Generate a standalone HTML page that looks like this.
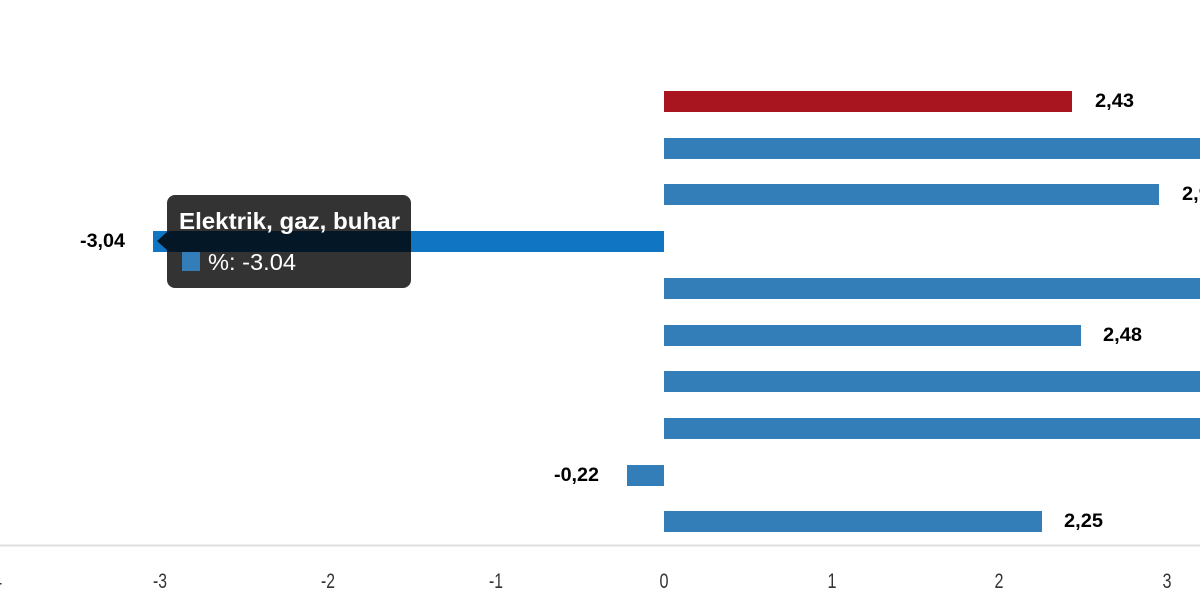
<!DOCTYPE html>
<html><head><meta charset="utf-8"><style>
html,body{margin:0;padding:0;background:#fff;width:1200px;height:600px;overflow:hidden}
text{font-family:"Liberation Sans",Arial,sans-serif}
</style></head><body>
<svg width="1200" height="600" xmlns="http://www.w3.org/2000/svg">
<line x1="0" y1="545.5" x2="1200" y2="545.5" stroke="#e0e0e0" stroke-width="2"/>
<g fill="#333" font-size="21" text-anchor="middle">
<text x="-5" y="588" textLength="14" lengthAdjust="spacingAndGlyphs">-4</text>
<text x="160" y="588" textLength="14" lengthAdjust="spacingAndGlyphs">-3</text>
<text x="328" y="588" textLength="14" lengthAdjust="spacingAndGlyphs">-2</text>
<text x="496" y="588" textLength="14" lengthAdjust="spacingAndGlyphs">-1</text>
<text x="664" y="588" textLength="9" lengthAdjust="spacingAndGlyphs">0</text>
<text x="832" y="588" textLength="9" lengthAdjust="spacingAndGlyphs">1</text>
<text x="999" y="588" textLength="9" lengthAdjust="spacingAndGlyphs">2</text>
<text x="1167" y="588" textLength="9" lengthAdjust="spacingAndGlyphs">3</text>
</g>
<rect x="664" y="91" width="408" height="21" fill="#a8151e"/>
<rect x="664" y="138" width="540" height="21" fill="#337db8"/>
<rect x="664" y="184" width="495" height="21" fill="#337db8"/>
<rect x="153" y="231" width="511" height="21" fill="#1075c2"/>
<rect x="664" y="278" width="540" height="21" fill="#337db8"/>
<rect x="664" y="325" width="417" height="21" fill="#337db8"/>
<rect x="664" y="371" width="540" height="21" fill="#337db8"/>
<rect x="664" y="418" width="540" height="21" fill="#337db8"/>
<rect x="627" y="465" width="37" height="21" fill="#337db8"/>
<rect x="664" y="511" width="378" height="21" fill="#337db8"/>
<g fill="#000" font-size="19" font-weight="bold">
<text x="1095" y="107" textLength="39" lengthAdjust="spacingAndGlyphs">2,43</text>
<text x="1182" y="200" textLength="39" lengthAdjust="spacingAndGlyphs">2,95</text>
<text x="1103" y="341" textLength="39" lengthAdjust="spacingAndGlyphs">2,48</text>
<text x="1064" y="527" textLength="39" lengthAdjust="spacingAndGlyphs">2,25</text>
<text x="80" y="247" textLength="45" lengthAdjust="spacingAndGlyphs">-3,04</text>
<text x="554" y="481" textLength="45" lengthAdjust="spacingAndGlyphs">-0,22</text>
</g>
<path d="M167,203 a8,8 0 0 1 8,-8 H403 a8,8 0 0 1 8,8 V280 a8,8 0 0 1 -8,8 H175 a8,8 0 0 1 -8,-8 V250 L157,241 L167,232 Z" fill="#000" fill-opacity="0.8"/>
<text x="179" y="229" fill="#fff" font-size="23" font-weight="bold" textLength="221" lengthAdjust="spacingAndGlyphs">Elektrik, gaz, buhar</text>
<rect x="182" y="252" width="18" height="19" fill="#337db8"/>
<text x="208" y="270" fill="#fff" font-size="23" textLength="88" lengthAdjust="spacingAndGlyphs">%: -3.04</text>
</svg>
</body></html>
